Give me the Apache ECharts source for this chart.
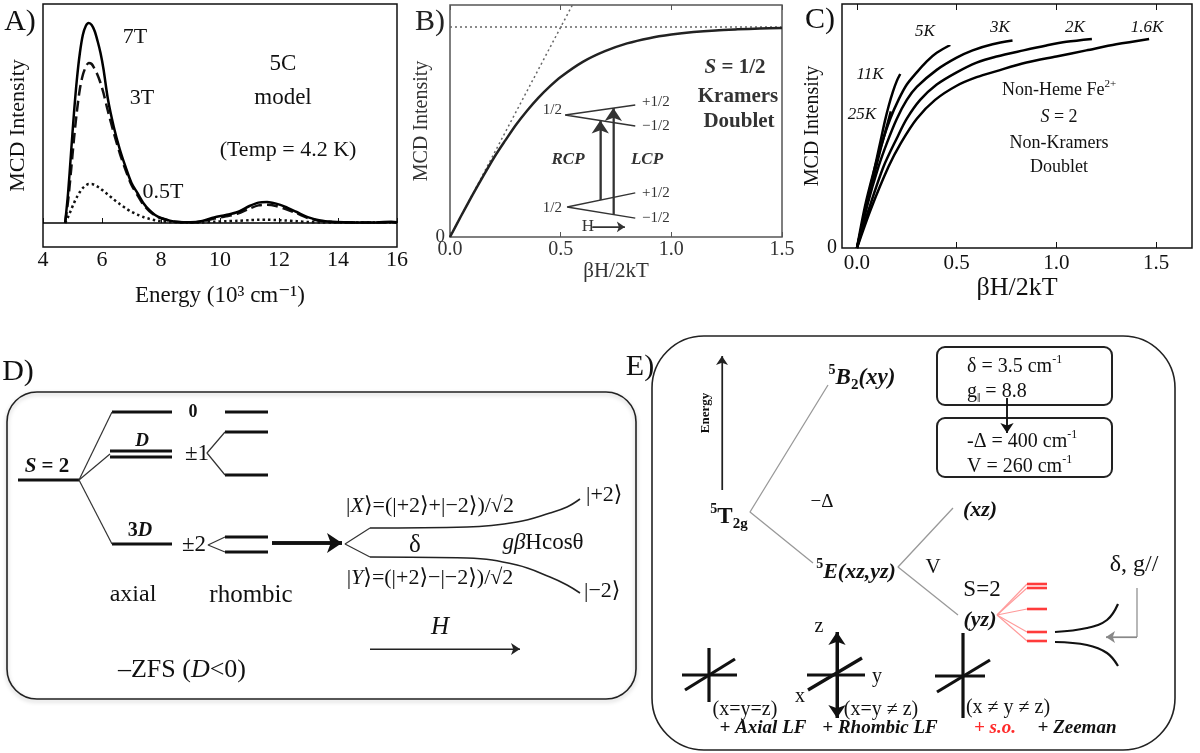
<!DOCTYPE html>
<html><head><meta charset="utf-8">
<script src="https://cdn.jsdelivr.net/npm/echarts@6/dist/echarts.min.js"></script>
<style>html,body{margin:0;padding:0;background:#fff}#c{width:1200px;height:753px}</style>
</head><body><div id="c"></div><script>
const SERIF = '"Liberation Serif","DejaVu Serif",serif';

// ---------- Panel A: MCD spectra ----------
const energyA = [4.75,4.85,4.95,5.05,5.15,5.25,5.35,5.45,5.55,5.65,5.75,5.85,5.95,6.05,6.2,6.4,6.6,6.8,7.0,7.2,7.4,7.6,7.8,8.0,8.3,8.6,9.0,9.4,9.8,10.2,10.6,11.0,11.3,11.6,11.9,12.2,12.6,13.0,13.4,13.8,14.3,14.8,15.3,15.8,16.0];
const mcd7T = [0,0.15,0.35,0.55,0.72,0.85,0.94,0.985,1.0,0.99,0.96,0.91,0.85,0.77,0.62,0.48,0.37,0.28,0.2,0.15,0.1,0.065,0.04,0.025,0.012,0.005,0.004,0.01,0.028,0.04,0.055,0.085,0.102,0.105,0.097,0.082,0.055,0.028,0.012,0.006,0.004,0.003,0.003,0.006,0.004];
const mcd3T = [0,0.11,0.26,0.42,0.56,0.67,0.74,0.78,0.8,0.795,0.77,0.74,0.7,0.65,0.56,0.45,0.35,0.265,0.19,0.14,0.092,0.06,0.038,0.024,0.011,0.005,0.003,0.008,0.022,0.033,0.047,0.072,0.088,0.091,0.085,0.071,0.048,0.024,0.01,0.005,0.003,0.003,0.002,0.004,0.003];
const mcd05T = [0,0.03,0.065,0.1,0.13,0.155,0.175,0.188,0.195,0.195,0.19,0.182,0.172,0.16,0.142,0.118,0.095,0.074,0.056,0.042,0.03,0.021,0.014,0.009,0.005,0.003,0.002,0.003,0.006,0.009,0.011,0.014,0.016,0.016,0.015,0.013,0.009,0.005,0.003,0.002,0.002,0.002,0.002,0.002,0.002];
const baselineA = [[4,0],[16,0]];

// ---------- Panel B: S=1/2 saturation ----------
const bX = [0,0.05,0.1,0.15,0.2,0.25,0.3,0.35,0.4,0.45,0.5,0.6,0.7,0.8,0.9,1.0,1.1,1.2,1.3,1.4,1.5];
const bY = [0,0.1,0.197,0.29,0.38,0.46,0.537,0.604,0.664,0.716,0.762,0.834,0.885,0.922,0.947,0.964,0.976,0.984,0.989,0.993,0.995];
const bSlope = [[0,0],[0.553,1.105]];
const bSat = [[0,1],[1.5,1]];
const bInsetLines = [
  [[0.837,0.629],[0.52,0.581],[0.837,0.529]],
  [[0.837,0.21],[0.529,0.143],[0.837,0.09]]
];
const bInsetArrows = [
  [[0.679,0.176],[0.679,0.555]],
  [[0.738,0.107],[0.738,0.614]]
];
const bHArrow = [[0.643,0.048],[0.79,0.048]];

// ---------- Panel C: S=2 non-Kramers VTVH ----------
const cCurves = [
  {name:'25K', x:[0,0.02,0.04,0.06,0.08,0.1,0.12,0.14,0.17], y:[0,0.07,0.14,0.21,0.28,0.345,0.41,0.47,0.56]},
  {name:'11K', x:[0,0.02,0.04,0.06,0.08,0.1,0.12,0.14,0.16,0.18,0.2,0.217], y:[0,0.075,0.15,0.225,0.295,0.37,0.445,0.52,0.585,0.64,0.685,0.713]},
  {name:'5K', x:[0,0.04,0.083,0.125,0.167,0.21,0.25,0.3,0.35,0.4,0.468], y:[0,0.17,0.31,0.43,0.53,0.61,0.67,0.72,0.765,0.8,0.832]},
  {name:'3K', x:[0,0.05,0.108,0.15,0.2,0.25,0.3,0.4,0.5,0.58,0.68,0.78], y:[0,0.17,0.333,0.43,0.53,0.607,0.66,0.73,0.78,0.81,0.835,0.85]},
  {name:'2K', x:[0,0.06,0.133,0.2,0.25,0.317,0.4,0.5,0.6,0.7,0.835,0.95,1.05,1.178], y:[0,0.16,0.333,0.45,0.53,0.607,0.67,0.72,0.76,0.785,0.81,0.83,0.845,0.857]},
  {name:'1.6K', x:[0,0.07,0.158,0.22,0.3,0.392,0.5,0.6,0.7,0.85,1.0,1.15,1.3,1.465], y:[0,0.16,0.333,0.43,0.53,0.607,0.665,0.7,0.725,0.76,0.785,0.81,0.835,0.857]}
];
const ticksBC = [0,0.5,1.0,1.5];

// ---------- Diagrams D & E (overlay canvas units) ----------
const dLevels = [
  [[18,480],[79,480]],[[112,412],[172,412]],[[110,451],[172,451]],[[110,457],[172,457]],[[112,544],[172,544]],
  [[225,412],[268,412]],[[225,432],[268,432]],[[225,475],[268,475]],[[225,537],[268,537]],[[225,552],[268,552]]
];
const dConnectors = [
  [[79,480],[112,412]],[[79,480],[110,454]],[[79,480],[112,544]],
  [[225,432],[207,453],[225,475]],[[225,537],[208,545],[225,552]],
  [[370,528],[345,544],[370,557]]
];
const dCurves = [
  [[370,528],[467,527],[517,522],[550,513],[567,507],[580,499]],
  [[370,557],[467,558],[517,565],[550,577],[567,585],[580,593]]
];
const eConnectors = [
  [[828,385],[750,512],[813,563]],
  [[953,508],[898,567],[958,615]]
];
const eRedFan = [
  [[997,615],[1027,584]],[[997,615],[1027,588]],[[997,615],[1027,609]],[[997,615],[1027,632]],[[997,615],[1027,641]]
];
const eRedLevels = [
  [[1027,584],[1047,584]],[[1027,588],[1047,588]],[[1027,609],[1047,609]],[[1027,632],[1047,632]],[[1027,641],[1047,641]]
];
const eCurves = [
  [[1055,632],[1087,628],[1107,620],[1118,604]],
  [[1055,642],[1087,645],[1107,653],[1118,666]]
];
const eIcons = [
  [[682,675],[737,675]],[[709,648],[709,702]],[[685,690],[735,659]],
  [[807,675],[865,675]],[[808,690],[862,658]],
  [[935,676],[985,676]],[[963,633],[963,718]],[[937,692],[990,660]]
];
const eGrayBend = [[1137,588],[1137,637]];
const diagArrows = [
  {p:[[272,543],[342,543]], w:3.5, s:15, c:'#111'},
  {p:[[370,649],[520,649]], w:1.2, s:9, c:'#222'},
  {p:[[722,490],[722,356]], w:1.2, s:9, c:'#222'},
  {p:[[1007,398],[1007,433]], w:1.5, s:10, c:'#111'},
  {p:[[1137,637],[1106,637]], w:1.2, s:9, c:'#888'},
  {p:[[837,675],[837,632]], w:3, s:13, c:'#111'},
  {p:[[837,675],[837,718]], w:3, s:13, c:'#111'}
];

// ---------- helpers ----------
function rs(size, color){
  color = color || '#111';
  const base = {fontFamily:SERIF, fill:color, color:color};
  return {
    sup:Object.assign({}, base, {fontSize:Math.round(size*0.62), verticalAlign:'top', lineHeight:Math.round(size*0.75)}),
    bsup:Object.assign({}, base, {fontSize:Math.round(size*0.62), fontWeight:'bold', verticalAlign:'top', lineHeight:Math.round(size*0.75)}),
    sub:Object.assign({}, base, {fontSize:Math.round(size*0.62), verticalAlign:'bottom', lineHeight:Math.round(size*0.7)}),
    bsub:Object.assign({}, base, {fontSize:Math.round(size*0.65), fontWeight:'bold', verticalAlign:'bottom', lineHeight:Math.round(size*0.7)}),
    i:Object.assign({}, base, {fontSize:size, fontStyle:'italic', lineHeight:Math.round(size*1.3)}),
    b:Object.assign({}, base, {fontSize:size, fontWeight:'bold', lineHeight:Math.round(size*1.3)}),
    bi:Object.assign({}, base, {fontSize:size, fontWeight:'bold', fontStyle:'italic', lineHeight:Math.round(size*1.3)}),
    n:Object.assign({}, base, {fontSize:size, lineHeight:Math.round(size*1.3)})
  };
}
function T(x, y, text, o){
  o = o || {};
  const size = o.size || 18, color = o.color || '#111';
  const al = o.align || 'center';
  return {type:'text', x:x, y:y, rotation:o.rot||0, silent:true, z:100,
    style:{text:text, fill:color, fontFamily:SERIF, fontSize:size,
      fontWeight:o.bold?'bold':'normal', fontStyle:o.italic?'italic':'normal',
      align:al, verticalAlign:'middle', textAlign:al, textVerticalAlign:'middle',
      lineHeight:Math.round(size*1.3), rich:rs(size,color)}};
}
function zip(xs, ys){ return xs.map((x,i)=>[x, ys[i]]); }

const series = [];
function seg(data, idx, color, width, extra){
  series.push(Object.assign({type:'line', xAxisIndex:idx, yAxisIndex:idx, data:data, symbol:'none', silent:true,
    lineStyle:{color:color, width:width}, z:5}, extra||{}));
}
// Panel A
seg(baselineA, 0, '#000', 1.5);
seg(zip(energyA, mcd05T), 0, '#111', 2.5, {smooth:0.3, lineStyle:{color:'#111', width:2.5, type:[2.5,3]}});
seg(zip(energyA, mcd3T), 0, '#111', 2.5, {smooth:0.3, lineStyle:{color:'#111', width:2.5, type:[11,5]}});
seg(zip(energyA, mcd7T), 0, '#000', 2.5, {smooth:0.3});
// Panel B
seg(bSat, 1, '#666', 1.5, {lineStyle:{color:'#666', width:1.5, type:[2,3]}});
seg(bSlope, 1, '#666', 1.5, {lineStyle:{color:'#666', width:1.5, type:[2,3]}});
seg(zip(bX, bY), 1, '#222', 2.5, {smooth:0.3});
bInsetLines.forEach(l => seg(l, 1, '#333', 1.4));
bInsetArrows.forEach(a => seg(a, 1, '#333', 1.6, {markLine:{silent:true, symbol:['none','arrow'], symbolSize:13,
  label:{show:false}, lineStyle:{color:'#333', width:1.6, type:'solid'}, data:[[{coord:a[0]},{coord:a[1]}]]}}));
seg(bHArrow, 1, '#333', 1.2, {markLine:{silent:true, symbol:['none','arrow'], symbolSize:8,
  label:{show:false}, lineStyle:{color:'#333', width:1.2, type:'solid'}, data:[[{coord:bHArrow[0]},{coord:bHArrow[1]}]]}});
// Panel C
cCurves.forEach(c => seg(zip(c.x, c.y), 2, '#000', 2.5, {smooth:0.3}));
// Diagrams
dLevels.forEach(l => seg(l, 3, '#111', 2.8));
dConnectors.forEach(l => seg(l, 3, '#333', 1.2));
dCurves.forEach(l => seg(l, 3, '#222', 1.6, {smooth:0.4}));
eConnectors.forEach(l => seg(l, 3, '#999', 1.3));
eRedFan.forEach(l => seg(l, 3, '#ff9a9a', 1.1));
eRedLevels.forEach(l => seg(l, 3, '#ff3b3b', 2.6));
eCurves.forEach(l => seg(l, 3, '#111', 2.2, {smooth:0.4}));
eIcons.forEach(l => seg(l, 3, '#111', 3.2));
seg(eGrayBend, 3, '#888', 1.2);
diagArrows.forEach(a => seg(a.p, 3, a.c, a.w, {markLine:{silent:true, symbol:['none','arrow'], symbolSize:a.s,
  label:{show:false}, lineStyle:{color:a.c, width:a.w, type:'solid'}, data:[[{coord:a.p[0]},{coord:a.p[1]}]]}}));

const hid = {show:false};
function axisFont(size, color){ return {fontFamily:SERIF, fontSize:size, color:color||'#111'}; }

const option = {
  animation:false,
  backgroundColor:'#fff',
  grid:[
    {left:43, top:4, width:354, height:243, show:true, borderColor:'#111', borderWidth:1.5},
    {left:450, top:5, width:332, height:232, show:true, borderColor:'#555', borderWidth:1.5},
    {left:842, top:4, width:350, height:244, show:true, borderColor:'#111', borderWidth:1.5},
    {left:0, top:0, width:1200, height:753}
  ],
  xAxis:[
    {gridIndex:0, type:'value', min:4, max:16, interval:2, name:'Energy (10³ cm⁻¹)', nameLocation:'middle', nameGap:37,
      nameTextStyle:axisFont(23), axisLine:hid, splitLine:hid,
      axisTick:{inside:true, length:5, lineStyle:{color:'#111'}}, axisLabel:Object.assign({margin:2}, axisFont(22))},
    {gridIndex:1, type:'value', min:0, max:1.5, interval:0.5, name:'βH/2kT', nameLocation:'middle', nameGap:20,
      nameTextStyle:axisFont(21,'#333'), axisLine:hid, splitLine:hid,
      axisTick:{inside:true, length:5, lineStyle:{color:'#555'}},
      axisLabel:Object.assign({margin:3, formatter:v=>v.toFixed(1)}, axisFont(20,'#333'))},
    {gridIndex:2, type:'value', min:-0.075, max:1.68, name:'βH/2kT', nameLocation:'middle', nameGap:23,
      nameTextStyle:axisFont(26), axisLine:hid, splitLine:hid,
      axisTick:{inside:true, length:6, customValues:ticksBC, lineStyle:{color:'#111'}},
      axisLabel:Object.assign({margin:5, customValues:ticksBC, formatter:v=>v.toFixed(1)}, axisFont(21))},
    {gridIndex:3, type:'value', min:0, max:1200, show:false},
    {gridIndex:1, type:'value', position:'top', min:0, max:1.5, interval:0.5, axisLine:hid, splitLine:hid, axisLabel:hid,
      axisTick:{inside:true, length:5, lineStyle:{color:'#555'}}},
    {gridIndex:2, type:'value', position:'top', min:-0.075, max:1.68, axisLine:hid, splitLine:hid,
      axisLabel:{show:false, customValues:ticksBC}, axisTick:{inside:true, length:6, customValues:ticksBC, lineStyle:{color:'#111'}}}
  ],
  yAxis:[
    {gridIndex:0, type:'value', min:-0.12, max:1.095, name:'MCD Intensity', nameLocation:'middle', nameGap:14,
      nameTextStyle:axisFont(22), axisLine:hid, splitLine:hid, axisTick:hid, axisLabel:hid},
    {gridIndex:1, type:'value', min:0, max:1.105, name:'MCD Intensity', nameLocation:'middle', nameGap:8,
      nameTextStyle:axisFont(20,'#333'), axisLine:hid, splitLine:hid, axisTick:hid,
      axisLabel:Object.assign({margin:5, customValues:[0]}, axisFont(19,'#333'))},
    {gridIndex:2, type:'value', min:0, max:1, name:'MCD Intensity', nameLocation:'middle', nameGap:10,
      nameTextStyle:axisFont(20), axisLine:hid, splitLine:hid, axisTick:hid,
      axisLabel:Object.assign({margin:5, customValues:[0]}, axisFont(20))},
    {gridIndex:3, type:'value', min:0, max:753, inverse:true, show:false}
  ],
  series:series,
  graphic:[
    // boxes
    {type:'rect', silent:true, z:1, shape:{x:7, y:392, width:629, height:307, r:30},
      style:{fill:'none', stroke:'#222', lineWidth:1.6, shadowBlur:4, shadowOffsetY:2, shadowColor:'rgba(0,0,0,0.25)'}},
    {type:'rect', silent:true, z:1, shape:{x:652, y:336, width:523, height:414, r:52},
      style:{fill:'none', stroke:'#222', lineWidth:1.6}},
    {type:'rect', silent:true, z:1, shape:{x:937, y:347, width:175, height:58, r:8},
      style:{fill:'none', stroke:'#222', lineWidth:2}},
    {type:'rect', silent:true, z:1, shape:{x:937, y:418, width:175, height:59, r:8},
      style:{fill:'none', stroke:'#222', lineWidth:2}},
    // Panel A
    T(20,22,'A)',{size:30}),
    T(135,37,'7T',{size:22}), T(142,98,'3T',{size:22}), T(163,192,'0.5T',{size:22}),
    T(283,64,'5C',{size:23}), T(283,98,'model',{size:23}), T(288,150,'(Temp = 4.2 K)',{size:22}),
    // Panel B
    T(430,22,'B)',{size:30,color:'#222'}),
    T(562,110,'1/2',{size:15,align:'right',color:'#333'}), T(562,208,'1/2',{size:15,align:'right',color:'#333'}),
    T(642,102,'+1/2',{size:15,align:'left',color:'#333'}), T(642,126,'−1/2',{size:15,align:'left',color:'#333'}),
    T(642,193,'+1/2',{size:15,align:'left',color:'#333'}), T(642,218,'−1/2',{size:15,align:'left',color:'#333'}),
    T(568,160,'RCP',{size:17,bold:true,italic:true,color:'#333'}), T(647,160,'LCP',{size:17,bold:true,italic:true,color:'#333'}),
    T(588,227,'H',{size:17,color:'#333'}),
    T(735,68,'{bi|S}{b| = 1/2}',{size:21,bold:true,color:'#333'}),
    T(738,97,'Kramers',{size:21,bold:true,color:'#333'}), T(739,122,'Doublet',{size:21,bold:true,color:'#333'}),
    // Panel C
    T(820,20,'C)',{size:30}),
    T(925,32,'5K',{size:17,italic:true}), T(1000,28,'3K',{size:17,italic:true}), T(1075,28,'2K',{size:17,italic:true}),
    T(1147,28,'1.6K',{size:17,italic:true}), T(870,75,'11K',{size:17,italic:true}), T(862,115,'25K',{size:17,italic:true}),
    T(1059,90,'Non-Heme Fe{sup|2+}',{size:18}), T(1059,117,'{i|S} = 2',{size:18}),
    T(1059,143,'Non-Kramers',{size:18}), T(1059,167,'Doublet',{size:18}),
    // Panel D
    T(18,372,'D)',{size:30}),
    T(47,467,'{bi|S}{b| = 2}',{size:21,bold:true}),
    T(193,412,'0',{size:18,bold:true}), T(142,441,'D',{size:19,bold:true,italic:true}),
    T(197,454,'±1',{size:23}), T(140,531,'{b|3}{bi|D}',{size:20,bold:true}), T(194,545,'±2',{size:23}),
    T(133,595,'axial',{size:24}), T(251,595,'rhombic',{size:25}),
    T(182,670,'–ZFS ({i|D}<0)',{size:26}),
    T(430,506,'|{i|X}⟩=(|+2⟩+|−2⟩)/√2',{size:22}),
    T(415,545,'δ',{size:25}), T(543,543,'{i|gβ}Hcosθ',{size:23}),
    T(430,578,'|{i|Y}⟩=(|+2⟩−|−2⟩)/√2',{size:22}),
    T(586,495,'|+2⟩',{size:22,align:'left'}), T(584,591,'|−2⟩',{size:22,align:'left'}),
    T(440,627,'H',{size:25,italic:true}),
    // Panel E
    T(640,367,'E)',{size:30}),
    T(706,413,'Energy',{size:13,bold:true,rot:Math.PI/2}),
    T(862,378,'{bsup|5}{bi|B}{bsub|2}{bi|(xy)}',{size:23,bold:true,italic:true}),
    T(729,517,'{bsup|5}{b|T}{bsub|2g}',{size:23,bold:true}),
    T(822,502,'−Δ',{size:19}),
    T(856,572,'{bsup|5}{bi|E(xz,yz)}',{size:22,bold:true,italic:true}),
    T(980,510,'(xz)',{size:22,bold:true,italic:true}),
    T(933,567,'V',{size:21}), T(982,590,'S=2',{size:23}),
    T(980,620,'(yz)',{size:22,bold:true,italic:true}),
    T(1134,565,'δ, g//',{size:24}),
    T(967,367,'δ = 3.5 cm{sup|-1}',{size:20,align:'left'}),
    T(967,392,'g{sub|‖} = 8.8',{size:20,align:'left'}),
    T(967,442,'-Δ = 400 cm{sup|-1}',{size:20,align:'left'}),
    T(967,467,'V = 260 cm{sup|-1}',{size:20,align:'left'}),
    T(745,710,'(x=y=z)',{size:20}), T(763,728,'+ Axial LF',{size:19,bold:true,italic:true}),
    T(819,627,'z',{size:20}), T(877,677,'y',{size:20}), T(800,697,'x',{size:20}),
    T(881,710,'(x=y ≠ z)',{size:20}), T(880,728,'+ Rhombic LF',{size:19,bold:true,italic:true}),
    T(1008,708,'(x ≠ y ≠ z)',{size:20}),
    T(995,728,'+ s.o.',{size:19,bold:true,italic:true,color:'#ff2a2a'}),
    T(1077,728,'+ Zeeman',{size:19,bold:true,italic:true})
  ]
};
const chart = echarts.init(document.getElementById('c'), null, {renderer:'canvas'});
chart.setOption(option);
</script></body></html>
